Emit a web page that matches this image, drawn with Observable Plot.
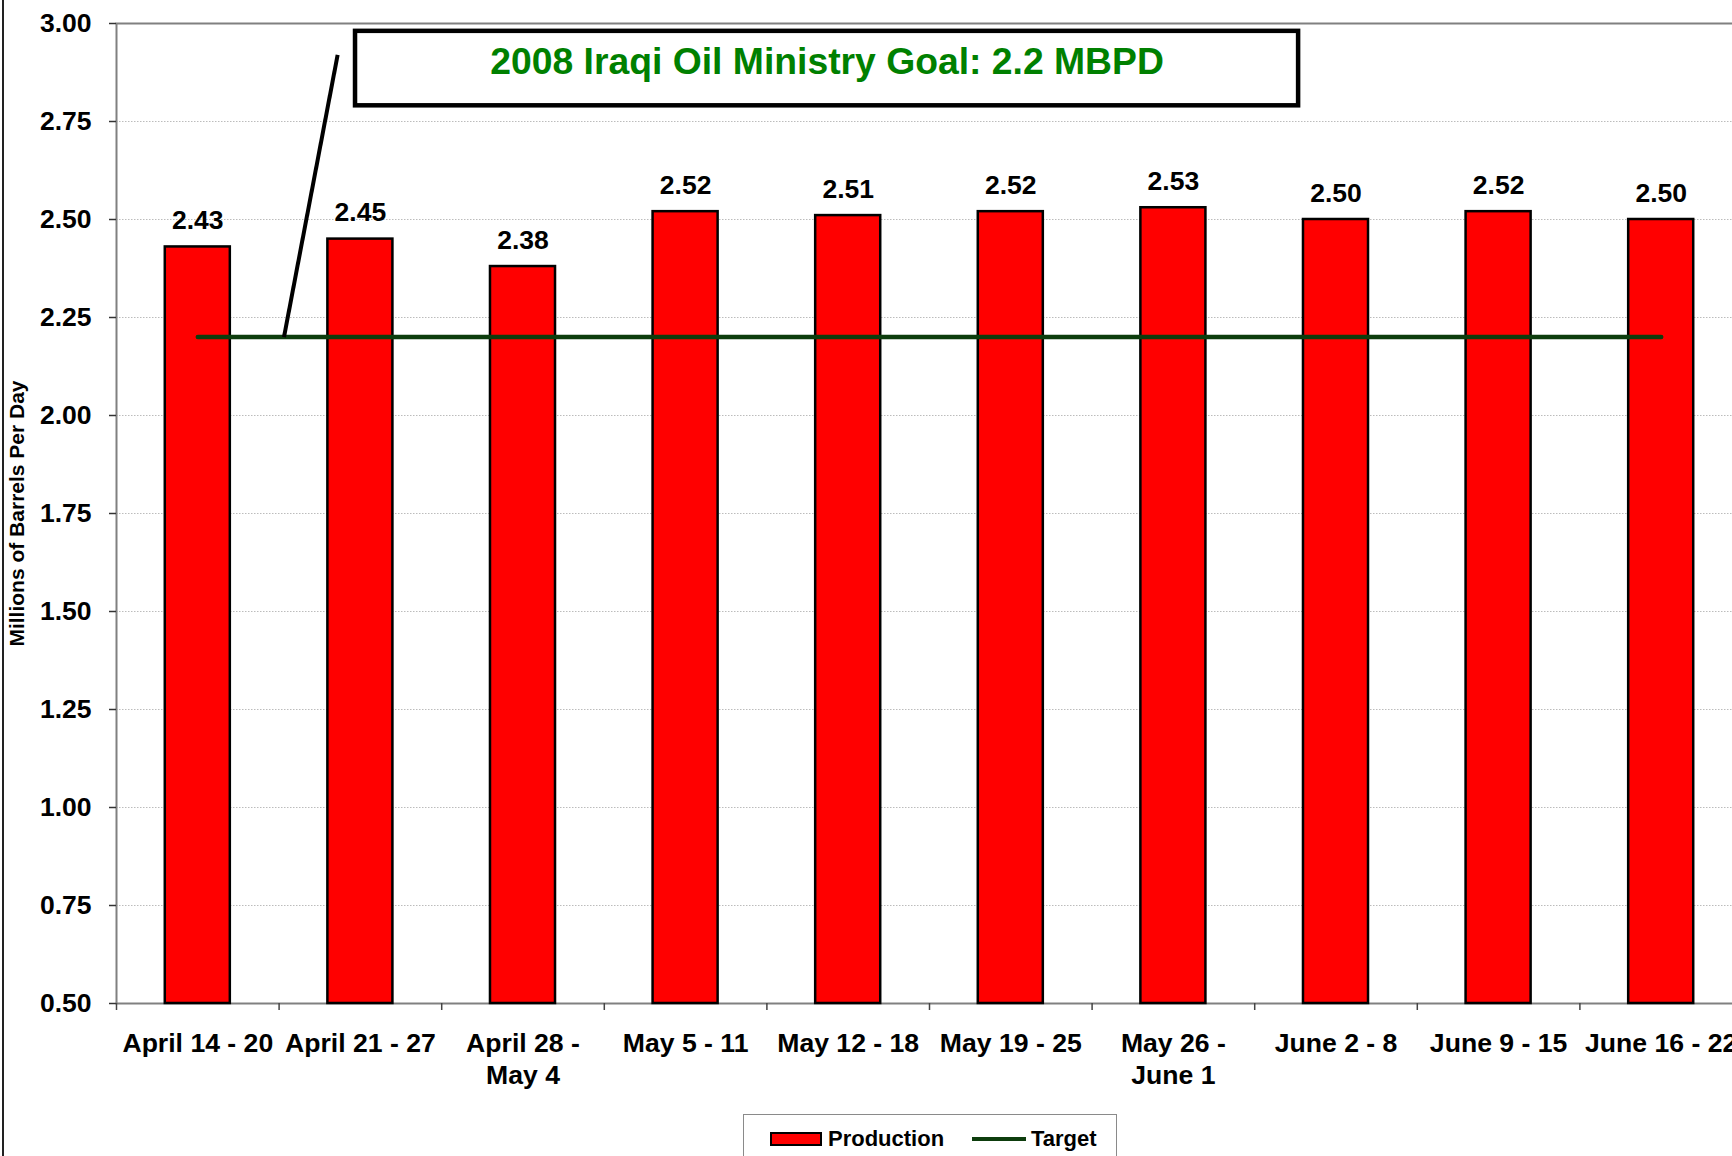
<!DOCTYPE html>
<html>
<head>
<meta charset="utf-8">
<script src="https://cdn.jsdelivr.net/npm/d3@7"></script>
<script src="https://cdn.jsdelivr.net/npm/@observablehq/plot@0.6"></script>
<style>
  html, body { margin: 0; padding: 0; background: white; overflow: hidden; }
  #wrap { position: relative; width: 1732px; height: 1156px; overflow: hidden; background: white;
          font-family: "Liberation Sans", Arial, sans-serif; }
  #wrap svg { position: absolute; left: 0; top: 0; }
  #edge { position: absolute; left: 2px; top: 0; width: 2px; height: 1156px; background: #222; }
  #legend { position: absolute; left: 743px; top: 1114px; width: 374px; height: 70px; box-sizing: border-box;
            border: 1.5px solid #8a8a8a; background: white; font-weight: bold; font-size: 22px; color: #000; }
  #legend .item { position: absolute; top: 12px; display: flex; align-items: center; height: 24px; }
  #legend .bar { width: 48px; height: 10px; background: #ff0000; border: 2px solid #000; margin-right: 6px; }
  #legend .line { width: 54px; height: 3.5px; background: #0d3d0d; margin-right: 5px; }
</style>
</head>
<body>
<div id="wrap">
  <div id="chart"></div>
  <div id="overlay"></div>
  <div id="edge"></div>
  <div id="legend">
    <div class="item" style="left:26px"><span class="bar"></span><span>Production</span></div>
    <div class="item" style="left:228px"><span class="line"></span><span>Target</span></div>
  </div>
</div>
<script>
// ---- data ----
const weeks = ["April 14 - 20", "April 21 - 27", "April 28 -\nMay 4", "May 5 - 11", "May 12 - 18",
               "May 19 - 25", "May 26 -\nJune 1", "June 2 - 8", "June 9 - 15", "June 16 - 22"];
const production = [2.43, 2.45, 2.38, 2.52, 2.51, 2.52, 2.53, 2.50, 2.52, 2.50];
const target = [2.2, 2.2, 2.2, 2.2, 2.2, 2.2, 2.2, 2.2, 2.2, 2.2];
const yTicks = [0.5, 0.75, 1.0, 1.25, 1.5, 1.75, 2.0, 2.25, 2.5, 2.75, 3.0];
const yDomain = [0.5, 3.0];
const yTitle = "Millions of Barrels Per Day";
// annotation (x in category-index units, y in data units)
const goalText = "2008 Iraqi Oil Ministry Goal: 2.2 MBPD";
const goalBoxX = [1.47, 7.27];
const goalBoxY = [2.79, 2.98];
const goalTextY = 2.902;
const calloutX = [1.03, 1.36];
const calloutY = [2.2, 2.92];

const rows = weeks.map((w, i) => ({week: w, production: production[i], target: target[i]}));

// ---- layout ----
const W = 1760, H = 1105, mL = 116, mR = 18, mT = 23, mB = 102;
const step = (W - mL - mR) / weeks.length;
const font = "Liberation Sans, Arial, sans-serif";

const chart = Plot.plot({
  width: W, height: H,
  marginLeft: mL, marginRight: mR, marginTop: mT, marginBottom: mB,
  style: {fontFamily: font, maxWidth: "none", overflow: "visible", background: "white"},
  x: {type: "band", domain: weeks, paddingInner: 0.6, paddingOuter: 0.3, round: false, axis: null},
  y: {domain: yDomain, axis: null},
  marks: [
    Plot.gridY(yTicks.filter(d => d > yDomain[0] && d < yDomain[1]),
      {stroke: "#bcbcbc", strokeOpacity: 1, strokeWidth: 1, strokeDasharray: "1.5,1.5"}),
    Plot.frame({stroke: "#808080", strokeWidth: 2}),
    Plot.axisY(yTicks, {tickSize: 7, tickPadding: 18, stroke: "#333", strokeWidth: 1.5,
      tickFormat: d => d.toFixed(2), fontSize: 26.5, fontWeight: "bold", fill: "black", label: null}),
    Plot.axisX({tickSize: 7, tickFormat: () => "", dx: -step / 2, stroke: "#444", strokeWidth: 1.5, label: null}),
    Plot.axisX({tickSize: 0, tickPadding: 26, fontSize: 26.6, fontWeight: "bold", fill: "black",
      lineHeight: 1.2, label: null}),
    Plot.barY(rows, {x: "week", y1: yDomain[0], y2: "production", fill: "#ff0000", stroke: "black", strokeWidth: 2.5}),
    Plot.line(rows, {x: "week", y: "target", stroke: "#0d3d0d", strokeWidth: 4.5, strokeLinecap: "round"}),
    Plot.text(rows, {x: "week", y: "production", text: d => d.production.toFixed(2), dy: -18,
      lineAnchor: "bottom", fontSize: 26.5, fontWeight: "bold", fill: "black"}),
    Plot.text([yTitle], {frameAnchor: "left", textAnchor: "middle", rotate: -90, dx: -99,
      fontSize: 21, fontWeight: "bold", fill: "black"})
  ]
});
document.getElementById("chart").appendChild(chart);

const overlay = Plot.plot({
  width: W, height: H,
  marginLeft: mL, marginRight: mR, marginTop: mT, marginBottom: mB,
  style: {fontFamily: font, maxWidth: "none", overflow: "visible", background: "transparent"},
  x: {type: "linear", domain: [0, weeks.length], axis: null},
  y: {domain: yDomain, axis: null},
  marks: [
    Plot.link([0], {x1: calloutX[0], y1: calloutY[0], x2: calloutX[1], y2: calloutY[1], stroke: "black", strokeWidth: 4}),
    Plot.rect([0], {x1: goalBoxX[0], x2: goalBoxX[1], y1: goalBoxY[0], y2: goalBoxY[1],
      fill: "white", stroke: "black", strokeWidth: 4.5}),
    Plot.text([goalText], {x: (goalBoxX[0] + goalBoxX[1]) / 2, y: goalTextY, fill: "#008000",
      fontSize: 37.3, fontWeight: "bold"})
  ]
});
document.getElementById("overlay").appendChild(overlay);
</script>
</body>
</html>
